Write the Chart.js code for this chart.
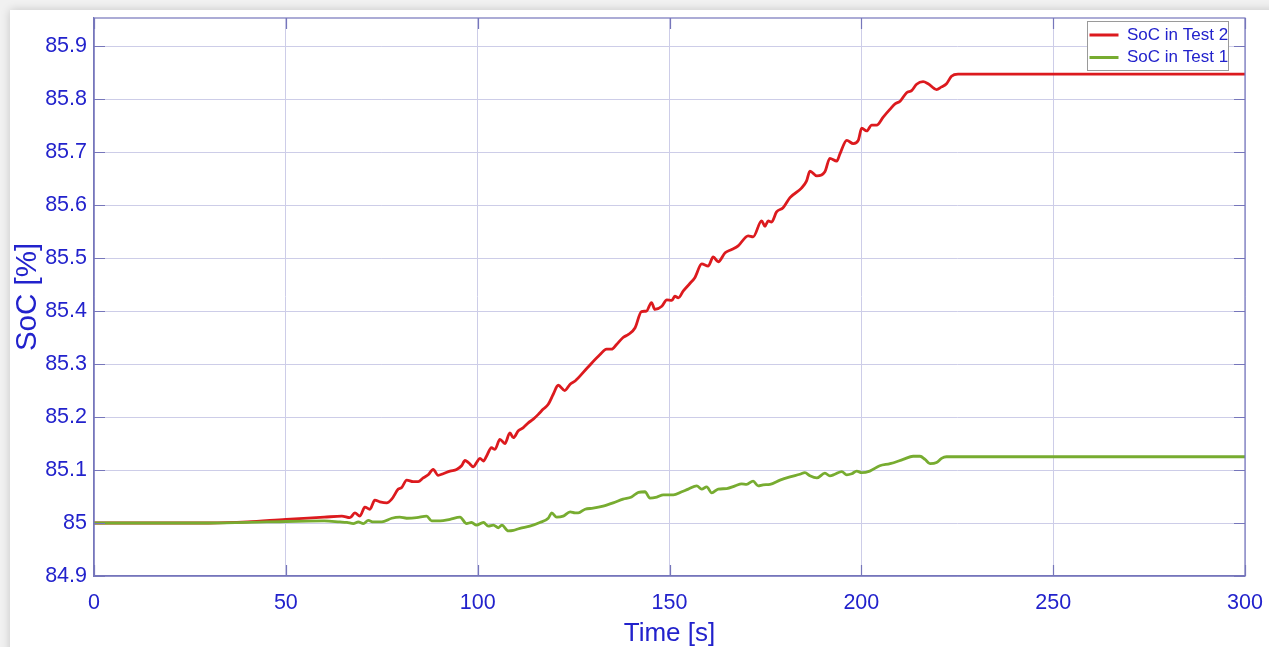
<!DOCTYPE html>
<html>
<head>
<meta charset="utf-8">
<script src="https://cdn.jsdelivr.net/npm/chart.js@4.4.1/dist/chart.umd.min.js"></script>
<style>
  html, body { margin: 0; padding: 0; background: #f1f1f1; overflow: hidden; }
  #card { position: absolute; left: 10px; top: 10px; width: 1400px; height: 800px; background: #ffffff; box-shadow: 0 0 9px rgba(0,0,0,0.18); }
  #c { position: absolute; left: 0; top: 0; }
</style>
</head>
<body>
<div id="card"></div>
<canvas id="c" width="1269" height="647"></canvas>
<script>
// ---- data ----
const seriesLabels = ['SoC in Test 2', 'SoC in Test 1'];
const xTitle = 'Time [s]';
const yTitle = 'SoC [%]';
const xTicks = [0, 50, 100, 150, 200, 250, 300];
const yTicks = [84.9, 85, 85.1, 85.2, 85.3, 85.4, 85.5, 85.6, 85.7, 85.8, 85.9];

// [time (s), SoC (%)]
const test2Points = [
  [0,85.000],[30,85.000],[40,85.002],[50,85.007],[60,85.011],[64.6,85.013],[66.7,85.010],[68.0,85.019],
  [69.3,85.013],[70.6,85.030],[71.9,85.026],[73.2,85.043],[74.5,85.040],[76.3,85.038],[77.6,85.045],
  [79.3,85.064],[80.2,85.067],[81.5,85.081],[83.2,85.078],[84.5,85.078],[85.8,85.085],[87.1,85.091],
  [88.4,85.101],[89.7,85.090],[91.0,85.093],[92.8,85.098],[94.5,85.101],[95.8,85.108],[96.7,85.118],
  [97.6,85.114],[98.9,85.106],[99.7,85.114],[100.6,85.122],[101.5,85.117],[102.3,85.126],[103.6,85.142],
  [104.5,85.139],[105.8,85.158],[107.1,85.150],[108.4,85.170],[109.3,85.161],[110.6,85.174],[111.9,85.180],
  [113.2,85.189],[114.5,85.196],[115.8,85.205],[117.1,85.215],[118.4,85.224],[119.7,85.243],[121.0,85.260],
  [122.7,85.250],[124.1,85.262],[125.4,85.268],[128.6,85.293],[131.9,85.318],[133.6,85.328],[134.9,85.328],
  [136.2,85.337],[137.9,85.350],[139.3,85.356],[141.0,85.368],[142.7,85.399],[144.0,85.400],[145.3,85.416],
  [146.2,85.403],[148.0,85.409],[149.3,85.421],[150.6,85.420],[151.4,85.428],[152.3,85.425],[153.6,85.438],
  [155.3,85.452],[156.6,85.463],[158.4,85.489],[160.1,85.485],[161.4,85.502],[162.7,85.493],[164.5,85.510],
  [166.2,85.516],[167.9,85.523],[170.5,85.542],[171.8,85.540],[174.0,85.570],[174.9,85.560],[175.7,85.570],
  [176.6,85.568],[177.9,85.587],[179.6,85.595],[181.4,85.614],[184.4,85.632],[185.7,85.645],[186.6,85.664],
  [188.4,85.655],[190.5,85.663],[191.8,85.688],[193.6,85.683],[194.4,85.696],[196.2,85.722],[197.9,85.716],
  [199.2,85.722],[200.1,85.745],[201.4,85.740],[202.7,85.751],[204.0,85.751],[205.7,85.766],[207.5,85.781],
  [208.8,85.791],[210.1,85.796],[211.8,85.812],[213.1,85.816],[214.4,85.828],[216.1,85.833],[217.4,85.829],
  [219.6,85.818],[220.9,85.823],[222.2,85.829],[223.5,85.843],[225.2,85.847],[227.4,85.847],[300,85.847]
];

const test1Points = [
  [0,85.000],[30,85.000],[45,85.002],[60,85.004],[64.1,85.002],[65.9,85.001],[67.6,84.999],[68.9,85.002],
  [70.2,84.999],[71.5,85.005],[72.8,85.002],[75.0,85.002],[77.6,85.009],[79.7,85.011],[81.5,85.009],
  [84.1,85.010],[86.7,85.013],[88.0,85.004],[90.2,85.004],[92.8,85.007],[95.4,85.011],[97.1,84.999],
  [98.4,85.001],[99.7,84.996],[101.5,85.001],[102.8,84.994],[104.1,84.996],[105.4,84.991],[106.3,84.996],
  [108.0,84.985],[109.3,84.986],[111.0,84.990],[113.6,84.994],[116.2,85.001],[118.4,85.009],[119.3,85.019],
  [120.6,85.011],[122.3,85.013],[124.1,85.021],[125.4,85.019],[126.2,85.019],[128.0,85.026],[130.1,85.028],
  [132.7,85.032],[135.3,85.038],[137.9,85.045],[140.1,85.049],[141.9,85.058],[143.6,85.059],[144.9,85.047],
  [146.7,85.049],[148.4,85.053],[151.0,85.053],[153.2,85.059],[154.9,85.064],[157.1,85.070],[158.4,85.064],
  [159.7,85.068],[161.0,85.057],[162.7,85.064],[164.9,85.065],[167.1,85.070],[168.8,85.074],[170.1,85.073],
  [171.8,85.079],[173.1,85.070],[174.4,85.072],[176.2,85.073],[178.8,85.081],[181.4,85.087],[184.0,85.092],
  [185.3,85.095],[186.6,85.089],[188.4,85.085],[190.5,85.094],[191.8,85.089],[193.1,85.092],[194.9,85.097],
  [196.2,85.091],[197.5,85.093],[198.8,85.098],[200.1,85.095],[202.2,85.098],[204.8,85.108],[207.5,85.112],
  [210.9,85.120],[213.5,85.126],[215.3,85.126],[216.6,85.120],[217.9,85.112],[219.6,85.114],[220.9,85.122],
  [222.2,85.125],[224.0,85.125],[300,85.125]
];

const seriesColors = ['#dc1a1e', '#77ac30'];

// ---- styling ----
const BLUE = '#2222cc';
const GRID = '#cdcde8';
const AXIS = '#7676bb';
const FONT = "'Liberation Sans', Arial, Helvetica, sans-serif";

const toXY = pts => pts.map(p => ({ x: p[0], y: p[1] }));

// Legend placement & box (MATLAB-like opaque legend in top-right)
const legendBoxPlugin = {
  id: 'legendBox',
  beforeDraw(chart) {
    const lg = chart.legend;
    if (!lg) return;
    const ca = chart.chartArea;
    lg.left = ca.right - 161;
    lg.top = ca.top + 3;
    lg.right = ca.right;
    lg.bottom = ca.bottom;
    lg.width = lg.right - lg.left;
    lg.height = lg.bottom - lg.top;
    if (!lg._boxPatched) {
      const orig = lg.draw;
      lg.draw = function (area) {
        const ctx = chart.ctx;
        const a = chart.chartArea;
        const bx = a.right - 158, by = a.top + 3, bw = 141, bh = 49;
        ctx.save();
        ctx.fillStyle = '#ffffff';
        ctx.fillRect(bx, by, bw, bh);
        ctx.strokeStyle = '#9a9a9a';
        ctx.lineWidth = 1;
        ctx.strokeRect(Math.round(bx) + 0.5, Math.round(by) + 0.5, bw, bh);
        ctx.restore();
        orig.call(this, area);
      };
      lg._boxPatched = true;
    }
  }
};

// Box around axes + inner ticks (MATLAB style)
const boxTicksPlugin = {
  id: 'boxTicks',
  afterDatasetsDraw(chart) {
    const { ctx, chartArea: a, scales } = chart;
    const L = 11;
    ctx.save();
    ctx.strokeStyle = AXIS;
    ctx.lineWidth = 1.2;
    ctx.strokeRect(a.left, a.top, a.right - a.left, a.bottom - a.top);
    ctx.beginPath();
    scales.y.ticks.forEach(t => {
      const y = Math.round(scales.y.getPixelForValue(t.value)) + 0.5;
      ctx.moveTo(a.left, y); ctx.lineTo(a.left + L, y);
      ctx.moveTo(a.right, y); ctx.lineTo(a.right - L, y);
    });
    scales.x.ticks.forEach(t => {
      const x = Math.round(scales.x.getPixelForValue(t.value)) + 0.5;
      ctx.moveTo(x, a.bottom); ctx.lineTo(x, a.bottom - L);
      ctx.moveTo(x, a.top); ctx.lineTo(x, a.top + L);
    });
    ctx.stroke();
    ctx.restore();
  }
};

Chart.defaults.font.family = FONT;

new Chart(document.getElementById('c'), {
  type: 'line',
  data: {
    datasets: [
      {
        label: seriesLabels[0],
        data: toXY(test2Points),
        borderColor: seriesColors[0],
        backgroundColor: seriesColors[0],
        borderWidth: 2.8,
        pointRadius: 0,
        cubicInterpolationMode: 'monotone',
        order: 1
      },
      {
        label: seriesLabels[1],
        data: toXY(test1Points),
        borderColor: seriesColors[1],
        backgroundColor: seriesColors[1],
        borderWidth: 2.8,
        pointRadius: 0,
        cubicInterpolationMode: 'monotone',
        order: 0
      }
    ]
  },
  options: {
    responsive: false,
    animation: false,
    devicePixelRatio: 1,
    layout: { padding: { left: 0, top: 18, right: 24, bottom: 0 } },
    plugins: {
      tooltip: { enabled: false },
      legend: {
        position: 'chartArea',
        align: 'start',
        labels: {
          color: BLUE,
          font: { size: 17, family: FONT },
          boxWidth: 29,
          boxHeight: 0,
          padding: 5.5,
          sort: (a, b) => a.datasetIndex - b.datasetIndex
        }
      }
    },
    scales: {
      x: {
        type: 'linear',
        min: xTicks[0],
        max: xTicks[xTicks.length - 1],
        afterBuildTicks: s => { s.ticks = xTicks.map(v => ({ value: v })); },
        ticks: { color: BLUE, font: { size: 21.5, family: FONT }, padding: 14, maxRotation: 0, autoSkip: false,
                 callback: v => String(v) },
        grid: { color: GRID, lineWidth: 1, drawTicks: false },
        border: { color: AXIS, width: 1.2 },
        title: { display: true, text: xTitle, color: BLUE, font: { size: 26, family: FONT, lineHeight: 1.0 }, padding: { top: 0, bottom: 0 } },
        afterFit: s => { s.height = 71; s.paddingLeft = 0; s.paddingRight = 0; }
      },
      y: {
        type: 'linear',
        min: 84.9,
        max: 85.953,
        afterBuildTicks: s => { s.ticks = yTicks.map(v => ({ value: v })); },
        ticks: { color: BLUE, font: { size: 21.5, family: FONT }, padding: 7,
                 callback: v => String(+(+v).toFixed(1)) },
        grid: { color: GRID, lineWidth: 1, drawTicks: false },
        border: { color: AXIS, width: 1.2 },
        title: { display: true, text: yTitle, color: BLUE, font: { size: 29.5, family: FONT, lineHeight: 1.0 }, padding: { top: 13, bottom: 0 } },
        afterFit: s => { s.width = 94; s.paddingTop = 0; s.paddingBottom = 0; }
      }
    }
  },
  plugins: [legendBoxPlugin, boxTicksPlugin]
});
</script>
</body>
</html>
